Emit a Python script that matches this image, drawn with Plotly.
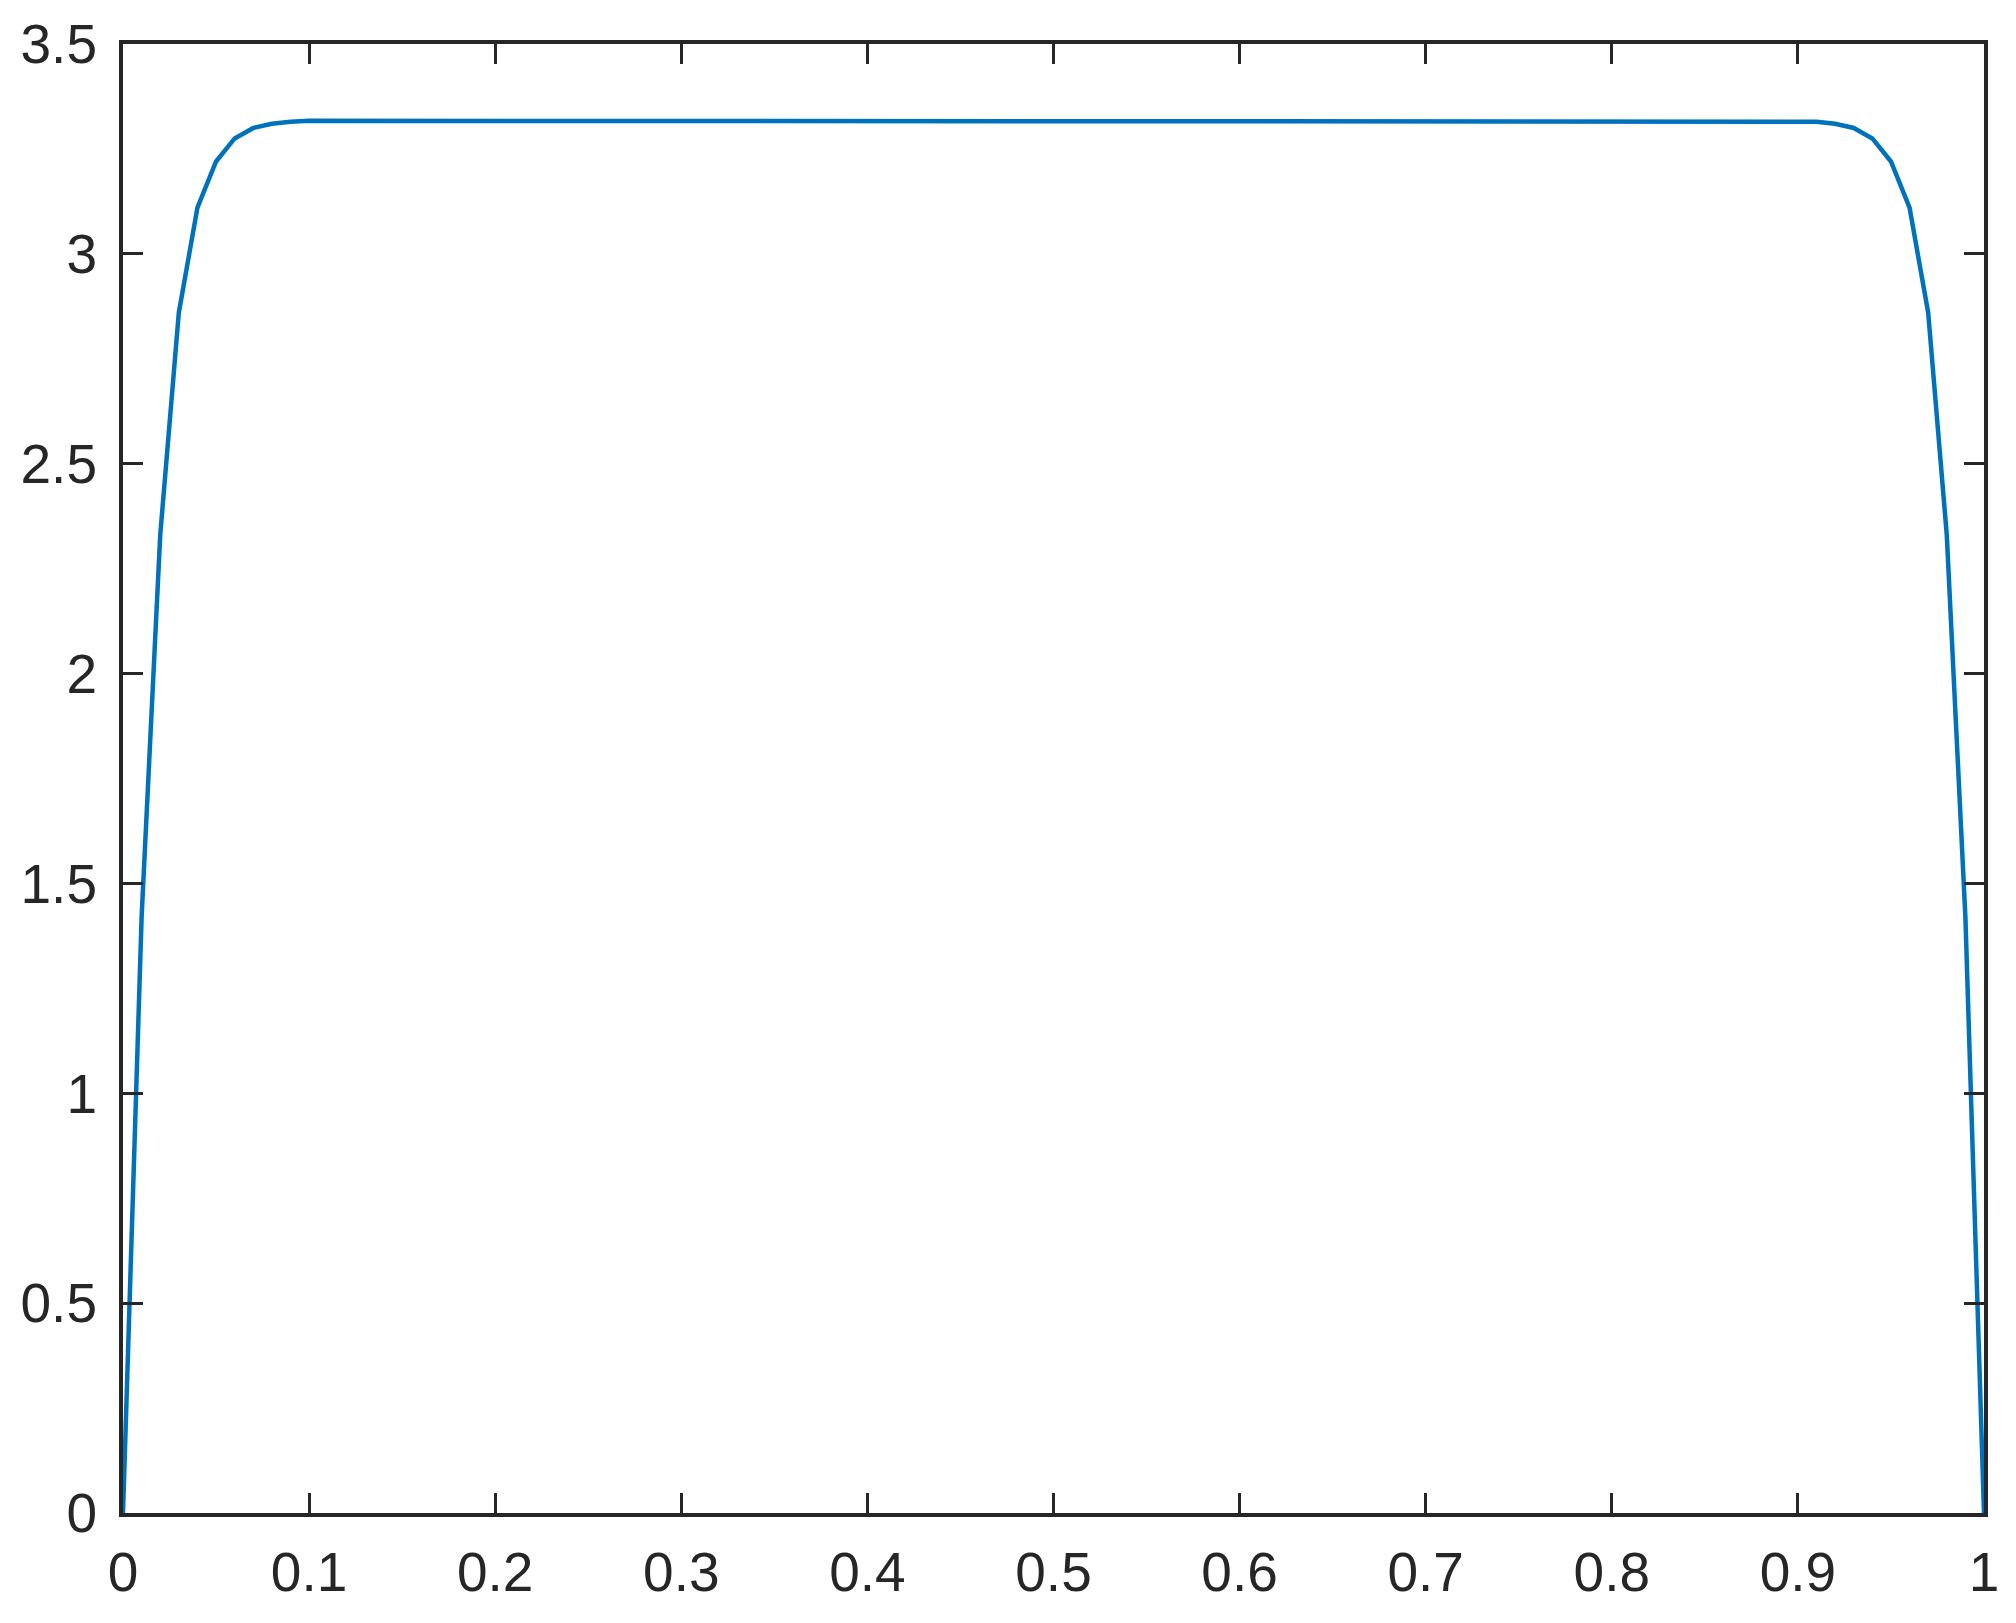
import plotly.graph_objects as go

# x positions (0 to 1, step 0.01)
x_vals = [round(i * 0.01, 2) for i in range(101)]

# values
y_left = [0.0, 1.42, 2.33, 2.86, 3.11, 3.22, 3.275, 3.30, 3.31, 3.315]
y_mid = [
    3.317, 3.317, 3.317, 3.317, 3.317, 3.317, 3.317, 3.317, 3.317, 3.317,
    3.317, 3.317, 3.317, 3.317, 3.317, 3.317, 3.317, 3.317, 3.317, 3.317,
    3.317, 3.317, 3.317, 3.317, 3.317, 3.317, 3.317, 3.317, 3.317, 3.317,
    3.317, 3.317, 3.317, 3.317, 3.317, 3.317, 3.317, 3.317, 3.317, 3.317,
    3.317, 3.317, 3.317, 3.317, 3.317, 3.317, 3.317, 3.317, 3.317, 3.317,
    3.317, 3.317, 3.317, 3.317, 3.317, 3.317, 3.317, 3.317, 3.317, 3.317,
    3.317, 3.317, 3.317, 3.317, 3.317, 3.317, 3.317, 3.317, 3.317, 3.317,
    3.317, 3.317, 3.317, 3.317, 3.317, 3.317, 3.317, 3.317, 3.317, 3.317,
    3.317,
]
y_right = [3.315, 3.31, 3.30, 3.275, 3.22, 3.11, 2.86, 2.33, 1.42, 0.0]
y_vals = y_left + y_mid + y_right

x_ticks = [0, 0.1, 0.2, 0.3, 0.4, 0.5, 0.6, 0.7, 0.8, 0.9, 1]
x_ticklabels = ["0", "0.1", "0.2", "0.3", "0.4", "0.5", "0.6", "0.7", "0.8", "0.9", "1"]
y_ticks = [0, 0.5, 1, 1.5, 2, 2.5, 3, 3.5]
y_ticklabels = ["0", "0.5", "1", "1.5", "2", "2.5", "3", "3.5"]

AX = "#262626"
FONT = dict(family="Liberation Sans, Arial, Helvetica, sans-serif", size=55, color=AX)

fig = go.Figure()
fig.add_trace(go.Scatter(x=x_vals, y=y_vals, mode="lines",
                         line=dict(color="#0072BD", width=4.5), showlegend=False,
                         hoverinfo="skip"))

common = dict(showgrid=False, zeroline=False, showline=True, linecolor=AX, linewidth=4,
              mirror="ticks", ticks="inside", ticklen=20, tickwidth=3, tickcolor=AX,
              tickfont=FONT, automargin=False)

fig.update_xaxes(range=[0, 1], tickvals=x_ticks, ticktext=x_ticklabels,
                 ticklabelstandoff=8, **common)
fig.update_yaxes(range=[0, 3.5], tickvals=y_ticks, ticktext=y_ticklabels,
                 ticklabelstandoff=11, **common)

fig.update_layout(width=2016, height=1623,
                  margin=dict(l=115, r=40, t=36, b=118, pad=0),
                  plot_bgcolor="white", paper_bgcolor="white")

fig.write_html("out.html")
